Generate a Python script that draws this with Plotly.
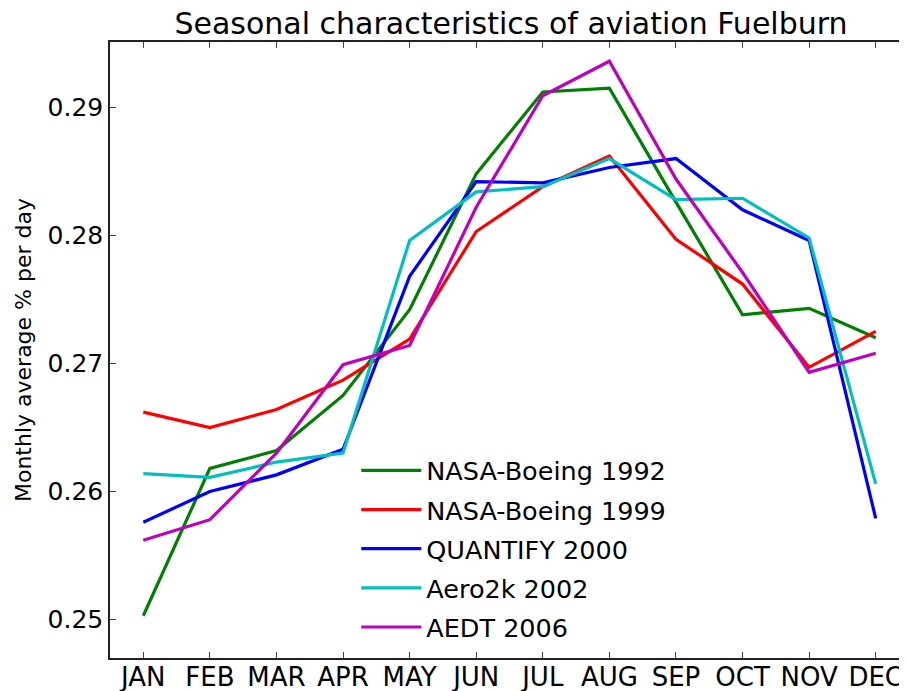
import plotly.graph_objects as go

# Monthly average fuelburn (% per day)
MONTHS = ["JAN", "FEB", "MAR", "APR", "MAY", "JUN", "JUL", "AUG", "SEP", "OCT", "NOV", "DEC"]

NASA_1992 = [0.2503, 0.2618, 0.2632, 0.2675, 0.2742, 0.2848, 0.2912, 0.2915, 0.2826, 0.2738, 0.2743, 0.2720]
NASA_1999 = [0.2662, 0.2650, 0.2664, 0.2687, 0.2719, 0.2803, 0.2838, 0.2862, 0.2797, 0.2762, 0.2697, 0.2725]
QUANTIFY_2000 = [0.2576, 0.2600, 0.2613, 0.2633, 0.2768, 0.2842, 0.2841, 0.2853, 0.2860, 0.2820, 0.2796, 0.2579]
AERO2K_2002 = [0.2614, 0.2611, 0.2623, 0.2630, 0.2796, 0.2834, 0.2838, 0.2860, 0.2828, 0.2829, 0.2798, 0.2606]
AEDT_2006 = [0.2562, 0.2578, 0.2630, 0.2699, 0.2714, 0.2822, 0.2909, 0.2936, 0.2844, 0.2771, 0.2693, 0.2708]

SERIES = [
    ("NASA-Boeing 1992", NASA_1992, "#008000"),
    ("NASA-Boeing 1999", NASA_1999, "#ff0000"),
    ("QUANTIFY 2000", QUANTIFY_2000, "#0000ff"),
    ("Aero2k 2002", AERO2K_2002, "#00bfbf"),
    ("AEDT 2006", AEDT_2006, "#bf00bf"),
]

Y_TICKS = [0.25, 0.26, 0.27, 0.28, 0.29]

FONT = "DejaVu Sans"
months_idx = list(range(1, len(MONTHS) + 1))

fig = go.Figure()
for i, (name, values, color) in enumerate(SERIES):
    fig.add_trace(go.Scatter(
        x=months_idx,
        y=values,
        mode="lines",
        name=name,
        legendgroup=f"g{i}",
        line=dict(color=color, width=3.2),
    ))

# page body has an 8px margin, so the figure is sized to the visible area
fig.update_layout(
    width=899,
    height=683,
    margin=dict(l=102, r=0, t=34, b=33),
    paper_bgcolor="white",
    plot_bgcolor="white",
    font=dict(family=FONT, color="black"),
    title=dict(
        text="Seasonal characteristics of aviation Fuelburn",
        font=dict(size=30, family=FONT, color="black"),
        x=0.5595,
        xanchor="center",
        y=0.978,
        yanchor="middle",
    ),
    showlegend=True,
    legend=dict(
        x=0.309,
        y=0.342,
        xanchor="left",
        yanchor="top",
        bgcolor="rgba(0,0,0,0)",
        font=dict(size=25.5, family=FONT, color="black"),
        traceorder="grouped",
        tracegroupgap=3,
        itemwidth=60,
    ),
)

fig.update_xaxes(
    automargin=False,
    range=[0.5, 12.47],
    tickmode="array",
    tickvals=months_idx,
    ticktext=MONTHS,
    tickfont=dict(size=26, family=FONT),
    ticklabelstandoff=-5,
    ticks="inside",
    ticklen=6,
    tickcolor="#444444",
    showline=True,
    linecolor="#222222",
    linewidth=1.5,
    mirror="allticks",
    showgrid=False,
    zeroline=False,
)
fig.update_yaxes(
    automargin=False,
    range=[0.247, 0.2951],
    tickmode="array",
    tickvals=Y_TICKS,
    ticktext=[f"{v:.2f}" for v in Y_TICKS],
    tickfont=dict(size=25, family=FONT),
    ticks="inside",
    ticklen=6,
    tickcolor="#444444",
    showline=True,
    linecolor="#222222",
    linewidth=1.5,
    mirror="allticks",
    showgrid=False,
    zeroline=False,
    title=dict(text="Monthly average % per day", font=dict(size=22, family=FONT), standoff=10),
)

fig.write_html("out.html")
